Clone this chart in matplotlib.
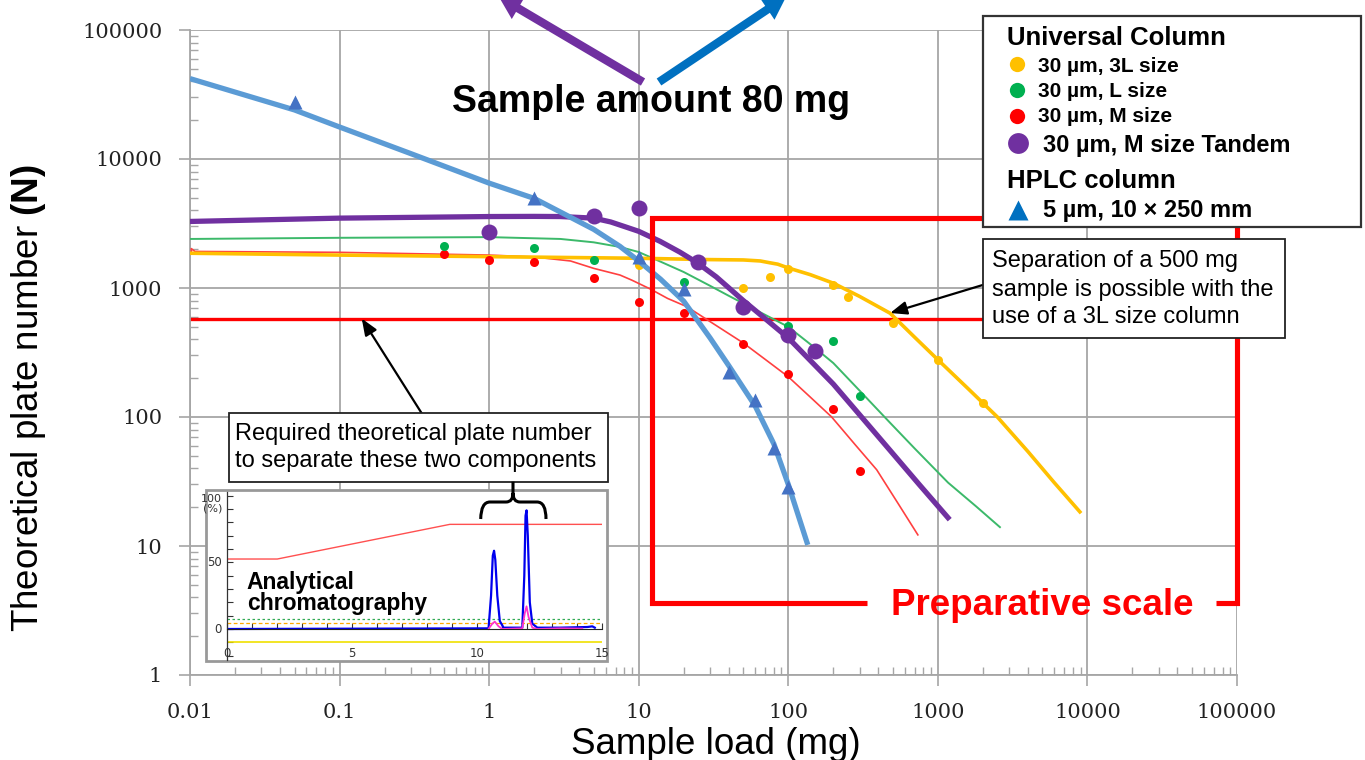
import matplotlib
matplotlib.use("Agg")
import matplotlib.pyplot as plt
from matplotlib.patches import Rectangle, FancyArrowPatch, PathPatch
from matplotlib.path import Path
from matplotlib.lines import Line2D
from matplotlib.transforms import Affine2D, blended_transform_factory
from matplotlib.ticker import FixedLocator, FixedFormatter, LogLocator, NullFormatter

# ---------------- data ----------------
# Universal Column 30 um, 3L size (yellow)
load_3L = [10, 50, 75, 100, 200, 250, 500, 1000, 2000]
plates_3L = [1500, 1000, 1220, 1400, 1050, 850, 535, 275, 128]
fit_3L_load = [0.01, 0.1, 1, 10, 30, 50, 65, 75, 85, 100, 140, 200, 300, 480, 700, 1000,
               1600, 2500, 4000, 6000, 8900]
fit_3L_plates = [1860, 1800, 1750, 1700, 1660, 1650, 1620, 1570, 1530, 1430, 1270, 1090, 860,
                 637, 415, 278, 165, 100, 54, 31, 18.4]

# Universal Column 30 um, L size (green)
load_L = [0.5, 2, 5, 20, 100, 200, 300]
plates_L = [2100, 2030, 1650, 1110, 510, 390, 145]
fit_L_load = [0.01, 0.1, 1, 3, 5, 7.5, 10, 14, 20, 30, 40, 60, 100, 150, 200, 300, 480, 700,
              1170, 1800, 2600]
fit_L_plates = [2400, 2450, 2480, 2400, 2260, 2080, 1900, 1600, 1330, 1040, 870, 680, 500, 345,
                262, 160, 90, 57, 31, 20.3, 14]

# Universal Column 30 um, M size (red)
load_M = [0.5, 1, 2, 5, 10, 20, 50, 100, 200, 300]
plates_M = [1850, 1650, 1600, 1200, 780, 640, 370, 215, 115, 38]
fit_M_load = [0.0102, 0.0102, 0.0108, 0.1, 1, 2, 3.5, 5, 7.5, 9, 12, 15.6, 21, 30, 50, 70, 100,
              140, 195, 280, 390, 550, 735]
fit_M_plates = [1900, 2020, 1920, 1890, 1800, 1740, 1620, 1420, 1260, 1150, 980, 830, 716, 549,
                375, 280, 205, 143, 100, 61, 39, 20.8, 12.2]

# Universal Column 30 um, M size Tandem (purple)
load_T = [1, 5, 10, 25, 50, 100, 150]
plates_T = [2700, 3600, 4150, 1580, 715, 430, 325]
fit_T_load = [0.01, 0.1, 1, 2, 3, 5, 6.5, 8, 10, 13.9, 18.8, 24.4, 33, 50, 70, 100, 140, 200,
              300, 480, 750, 1200]
fit_T_plates = [3280, 3480, 3580, 3590, 3580, 3480, 3250, 3000, 2750, 2300, 1900, 1580, 1220,
                800, 579, 410, 275, 180, 104, 55, 30, 16]

# HPLC column 5 um, 10x250 mm (blue)
load_H = [0.05, 2, 10, 20, 40, 60, 80, 100]
plates_H = [27700, 5000, 1750, 980, 225, 135, 58, 28.5]
fit_H_load = [0.01, 0.05, 0.1, 0.3, 1, 2, 5, 7.5, 10, 14, 20, 30, 40, 60, 80, 100, 135]
fit_H_plates = [42000, 24000, 17700, 11000, 6500, 4950, 2850, 2100, 1620, 1170, 790, 410, 250,
                122, 62, 30, 10.2]

required_plates = 580

x_ticks = [0.01, 0.1, 1, 10, 100, 1000, 10000, 100000]
x_ticklabels = ["0.01", "0.1", "1", "10", "100", "1000", "10000", "100000"]
y_ticks = [1, 10, 100, 1000, 10000, 100000]
y_ticklabels = ["1", "10", "100", "1000", "10000", "100000"]

# inset chromatogram
grad_time = [0, 2.0, 8.9, 15]
grad_pct = [52.5, 52.5, 78.5, 78.5]
uv_time = [0, 10.45, 10.55, 10.62, 10.67, 10.72, 10.8, 10.9, 11.05, 11.8, 11.88, 11.93,
           11.97, 12.02, 12.1, 12.2, 12.4, 13.3, 14.4, 14.6, 14.7]
uv_signal = [0, 0.5, 25, 55, 58.7, 52, 25, 6, 1, 1, 40, 85, 89, 70, 20, 4, 1, 1, 1.5, 2, 1]
ms_time = [10.45, 10.6, 10.7, 10.85, 11.0, 11.8, 11.9, 11.97, 12.05, 12.2, 12.4, 13.3, 14.2]
ms_signal = [0, 4, 5.5, 2, 0, 0.5, 12, 17, 9, 1, 0, 0.5, 0.3]
level_green = 7.3
level_orange = 4.8
level_yellow = -10
inset_xticks = [0, 5, 10, 15]

# ---------------- figure ----------------
SANS = ["Liberation Sans", "DejaVu Sans"]
plt.rcParams["font.family"] = SANS
plt.rcParams["mathtext.fontset"] = "custom"
plt.rcParams["mathtext.rm"] = "Liberation Sans"
plt.rcParams["mathtext.bf"] = "Liberation Sans:bold"

W, H = 1365, 760
fig = plt.figure(figsize=(W / 100, H / 100), dpi=100)
PX = Affine2D().scale(1 / W, -1 / H).translate(0, 1) + fig.transFigure


def box(px0, py0, px1, py1):
    return [px0 / W, 1 - py1 / H, (px1 - px0) / W, (py1 - py0) / H]


ax = fig.add_axes(box(190, 30, 1237, 675))
ax.set_xscale("log")
ax.set_yscale("log")
ax.set_xlim(0.01, 100000)
ax.set_ylim(1, 100000)

GRID = "#a6a6a6"
ax.grid(True, which="major", color=GRID, lw=1.3)
ax.set_axisbelow(True)
for s in ["top", "right"]:
    ax.spines[s].set_visible(False)
for s in ["left", "bottom"]:
    ax.spines[s].set_color(GRID)
    ax.spines[s].set_linewidth(1.3)

ax.xaxis.set_major_locator(FixedLocator(x_ticks))
ax.xaxis.set_major_formatter(FixedFormatter(x_ticklabels))
ax.yaxis.set_major_locator(FixedLocator(y_ticks))
ax.yaxis.set_major_formatter(FixedFormatter(y_ticklabels))
ax.xaxis.set_minor_locator(LogLocator(base=10, subs=range(2, 10), numticks=100))
ax.yaxis.set_minor_locator(LogLocator(base=10, subs=range(2, 10), numticks=100))
ax.xaxis.set_minor_formatter(NullFormatter())
ax.yaxis.set_minor_formatter(NullFormatter())
ax.tick_params(which="major", direction="out", length=8, width=1.2, color=GRID)
ax.tick_params(which="minor", direction="in", length=6, width=1.0, color=GRID)
ax.tick_params(axis="x", which="major", pad=12)
ax.tick_params(axis="y", which="major", pad=12)
for lab in ax.get_xticklabels() + ax.get_yticklabels():
    lab.set_fontfamily("DejaVu Serif")
    lab.set_fontsize(15)
    lab.set_color("#222222")

YEL, GRN, RED, PUR, BLU_L, BLU_M = "#FFC000", "#00B050", "#FF0000", "#7030A0", "#5B9BD5", "#4472C4"

ax.axhline(required_plates, color="#FF0000", lw=2.4, zorder=2)
ax.plot(fit_M_load, fit_M_plates, color="#FF4040", lw=1.2, zorder=3)
ax.plot(fit_L_load, fit_L_plates, color="#3CB96A", lw=1.4, zorder=3)
ax.plot(fit_3L_load, fit_3L_plates, color=YEL, lw=2.6, zorder=3)
ax.plot(load_M, plates_M, "o", color=RED, ms=6.5, mec="none", zorder=4)
ax.plot(load_L, plates_L, "o", color=GRN, ms=6.5, mec="none", zorder=4)
ax.plot(load_3L, plates_3L, "o", color=YEL, ms=6.5, mec="none", zorder=4)
ax.plot(fit_T_load, fit_T_plates, color=PUR, lw=3.8, zorder=5, solid_capstyle="butt")
ax.plot(load_T, plates_T, "o", color=PUR, ms=11.5, mec="none", zorder=5)
ax.plot(fit_H_load, fit_H_plates, color=BLU_L, lw=3.8, zorder=6, solid_capstyle="butt")
ax.plot(load_H, plates_H, "^", color=BLU_M, ms=10, mec="none", zorder=6)

# axis labels
fig.text(29 / W, 1 - 398 / H, r"Theoretical plate number $\mathbf{(N)}$", rotation=90,
         ha="center", va="center", fontsize=26.5)
fig.text(716 / W, 1 - 744 / H, "Sample load (mg)", ha="center", va="center", fontsize=26.5)

# ---------------- inset chromatogram ----------------
fig.add_artist(Rectangle((205.7, 490), 401, 170.7, transform=PX, facecolor="white",
                         edgecolor="#999999", lw=2, zorder=1.5))
axi = fig.add_axes(box(227.3, 491.7, 602.3, 660))
axi.set_zorder(1.6)
axi.set_xlim(0, 15)
axi.set_ylim(-23.25, 103)
axi.patch.set_alpha(0)
for s in ["top", "right"]:
    axi.spines[s].set_visible(False)
axi.spines["bottom"].set_position(("data", 0))
axi.spines["bottom"].set_color("#222222")
axi.spines["bottom"].set_linewidth(0.8)
axi.spines["left"].set_color("#333333")
axi.spines["left"].set_linewidth(0.9)
axi.set_xticks(range(16))
axi.set_yticks(range(-20, 101, 10))
axi.tick_params(axis="both", direction="in", length=4, width=0.8, color="#333333",
                labelbottom=False, labelleft=False)
axi.axhline(level_green, color="#33aa55", lw=0.9, ls=(0, (2, 2)))
axi.axhline(level_orange, color="#ffaa00", lw=0.9, ls=(0, (3, 2)))
axi.axhline(level_yellow, color="#f0e000", lw=1.2)
axi.plot(grad_time, grad_pct, color="#ff5050", lw=1.0)
axi.plot(uv_time, uv_signal, color="#0000ee", lw=1.6)
axi.plot(ms_time, ms_signal, color="#ff33cc", lw=1.3)
tr_x = blended_transform_factory(axi.transData, PX)
for t in inset_xticks:
    axi.text(t, 653.3, str(t), transform=tr_x, ha="center", va="center", fontsize=8.5,
             family="DejaVu Sans", color="#333333", clip_on=False)
tr_y = blended_transform_factory(PX, axi.transData)
axi.text(222, 101, "100\n(%)", transform=tr_y, ha="right", va="top", fontsize=8,
         family="DejaVu Sans", color="#333333", linespacing=0.9)
axi.text(222, 50, "50", transform=tr_y, ha="right", va="center", fontsize=8.5,
         family="DejaVu Sans", color="#333333")
axi.text(222, 0, "0", transform=tr_y, ha="right", va="center", fontsize=8.5,
         family="DejaVu Sans", color="#333333")
fig.text(246.7 / W, 1 - 589.3 / H, "Analytical", fontsize=16.5, fontweight="bold", va="baseline")
fig.text(246.7 / W, 1 - 610 / H, "chromatography", fontsize=16.5, fontweight="bold", va="baseline")

# brace above the two peaks
verts = [(480.7, 519), (481, 502), (490, 502), (506, 502), (513, 502), (513, 493),
         (513, 502), (520, 502), (537, 502), (546, 502), (546, 519),
         (513, 493), (513, 481.7)]
codes = [Path.MOVETO, Path.CURVE3, Path.CURVE3, Path.LINETO, Path.CURVE3, Path.CURVE3,
         Path.CURVE3, Path.CURVE3, Path.LINETO, Path.CURVE3, Path.CURVE3,
         Path.MOVETO, Path.LINETO]
fig.add_artist(PathPatch(Path(verts, codes), transform=PX, facecolor="none",
                         edgecolor="black", lw=2.2, zorder=5))

# ---------------- preparative scale frame ----------------
rv = [(1216, 603), (1237, 603), (1237, 218), (652, 218), (652, 603), (867, 603)]
fig.add_artist(PathPatch(Path(rv), transform=PX, facecolor="none", edgecolor="#FF0000",
                         lw=3.7, joinstyle="miter", capstyle="butt", zorder=2))
fig.text(1042 / W, 1 - 615 / H, "Preparative scale", color="#FF0000", fontsize=26.5,
         fontweight="bold", ha="center", va="baseline", zorder=4)

# ---------------- annotation boxes ----------------
fig.add_artist(Rectangle((229.3, 413.3), 379, 68.4, transform=PX, facecolor="white",
                         edgecolor="#222222", lw=1.3, zorder=3))
fig.text(235 / W, 1 - 440 / H, "Required theoretical plate number", fontsize=17,
         va="baseline", zorder=4)
fig.text(235 / W, 1 - 466.7 / H, "to separate these two components", fontsize=17,
         va="baseline", zorder=4)
ax.annotate("", xy=(0.1407, required_plates), xycoords="data", xytext=(421.7, 413.3),
            textcoords=PX, annotation_clip=False,
            arrowprops=dict(arrowstyle="-|>,head_length=0.5,head_width=0.2", color="black",
                            lw=1.6, mutation_scale=20, shrinkA=0, shrinkB=0))

fig.add_artist(Rectangle((982.7, 239.3), 302.3, 99, transform=PX, facecolor="white",
                         edgecolor="#222222", lw=1.3, zorder=3))
for txt, yb in [("Separation of a 500 mg", 267.3), ("sample is possible with the", 295.7),
                ("use of a 3L size column", 323.3)]:
    fig.text(991.7 / W, 1 - yb / H, txt, fontsize=17, va="baseline", zorder=4)
ax.annotate("", xy=(480, 640), xycoords="data", xytext=(982.7, 285), textcoords=PX,
            annotation_clip=False,
            arrowprops=dict(arrowstyle="-|>,head_length=0.5,head_width=0.2", color="black",
                            lw=1.6, mutation_scale=20, shrinkA=0, shrinkB=0))

# ---------------- sample amount arrows ----------------
fig.text(651 / W, 1 - 112 / H, "Sample amount 80 mg", fontsize=27, fontweight="bold",
         ha="center", va="baseline", zorder=4)
for (x0, y0), (x1, y1), c in [((643, 82), (499, -3), PUR), ((659, 82), (786, -3), "#0070C0")]:
    fig.add_artist(FancyArrowPatch((x0, y0), (x1, y1), transform=PX,
                                   arrowstyle="simple,head_length=0.8,head_width=0.9,tail_width=0.3",
                                   mutation_scale=20, color=c, lw=0, shrinkA=0, shrinkB=0,
                                   zorder=4))

# ---------------- legend ----------------
fig.add_artist(Rectangle((983, 16), 377.7, 211, transform=PX, facecolor="white",
                         edgecolor="#333333", lw=1.6, zorder=5))
fig.text(1007 / W, 1 - 45 / H, "Universal Column", fontsize=18.5, fontweight="bold",
         va="baseline", zorder=6)
fig.text(1007 / W, 1 - 188.3 / H, "HPLC column", fontsize=18.5, fontweight="bold",
         va="baseline", zorder=6)
entries = [(YEL, "o", 11, 1017, 64, 1038, 71.7, "30 µm, 3L size", 15),
           (GRN, "o", 11, 1017, 90, 1038, 96.7, "30 µm, L size", 15),
           (RED, "o", 11, 1017, 116, 1038, 121.7, "30 µm, M size", 15),
           (PUR, "o", 15, 1018, 143, 1043, 151.7, "30 µm, M size Tandem", 17),
           ("#0070C0", "^", 15, 1018, 210, 1043, 216.7, "5 µm, 10 × 250 mm", 17)]
for col, mk, ms, mx, my, tx, ty, label, fs in entries:
    fig.add_artist(Line2D([mx], [my], transform=PX, marker=mk, ms=ms, color=col, mec="none",
                          ls="none", zorder=6))
    fig.text(tx / W, 1 - ty / H, label, fontsize=fs, fontweight="bold", va="baseline", zorder=6)

fig.savefig("out.png", dpi=100)
